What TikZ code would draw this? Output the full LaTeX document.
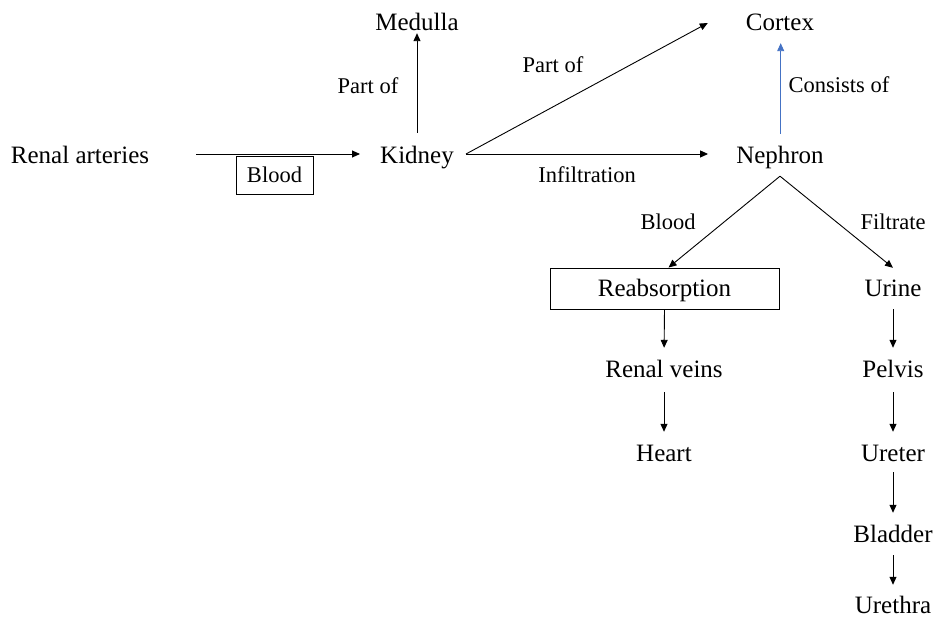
\documentclass[tikz,border=0pt]{standalone}
\usepackage{fontspec}
\setmainfont{Liberation Serif}
\usetikzlibrary{arrows.meta}
\definecolor{linkblue}{RGB}{68,114,196}
\begin{document}
\begin{tikzpicture}[x=1pt,y=1pt,
  term/.style={inner sep=0pt, text height=20pt, text depth=0pt, font=\fontsize{25}{30}\selectfont},
  lbl/.style={inner sep=0pt, anchor=base, font=\fontsize{22.5}{27}\selectfont},
  boxed/.style={draw, line width=0.9pt, inner sep=0pt},
  arr/.style={line width=0.9pt, -{Triangle[length=8pt,width=7pt]}}]
\path[use as bounding box] (0,0) rectangle (938,618);

% concepts
\node[term] (ra) at (80,464) {Renal arteries};
\node[term] (kid) at (417,464) {Kidney};
\node[term] (med) at (417,597) {Medulla};
\node[term] (cor) at (780,597) {Cortex};
\node[term] (nep) at (780,464) {Nephron};
\node[boxed, minimum width=229pt, minimum height=41pt, text height=17pt, text depth=0pt,
      font=\fontsize{25}{30}\selectfont] (reab) at (664.5,329.5) {Reabsorption};
\node[term] (urine) at (893,331) {Urine};
\node[term] (rv) at (664,250) {Renal veins};
\node[term] (heart) at (664,166) {Heart};
\node[term] (pelvis) at (893,250) {Pelvis};
\node[term] (ureter) at (893,166) {Ureter};
\node[term] (bladder) at (893,85) {Bladder};
\node[term] (urethra) at (893,14) {Urethra};

% link labels
\node[boxed, minimum width=77pt, minimum height=38pt, font=\fontsize{22.5}{27}\selectfont] (bloodbox) at (274.5,443) {Blood};
\node[lbl] (partL) at (368,524) {Part of};
\node[lbl] (partU) at (553,545) {Part of};
\node[lbl] (cons) at (839,525) {Consists of};
\node[lbl] (infil) at (587,435) {Infiltration};
\node[lbl] (bloodL) at (668,388) {Blood};
\node[lbl] (filt) at (893,388) {Filtrate};

% links
\draw[arr, shorten <=47pt, shorten >=20pt] (ra.east) -- (kid.west);
\draw[arr, shorten <=11pt, shorten >=2pt] (kid.north) -- (med.south);
\draw[arr] ([xshift=12pt]kid.east) -- ([shift={(-38pt,-2pt)}]cor.west);
\draw[arr] ([xshift=12pt]kid.east) -- ([xshift=-28pt]nep.west);
\draw[arr, linkblue, shorten <=10pt, shorten >=12pt] ([xshift=0.7pt]nep.north) -- ([xshift=0.7pt]cor.south);
\draw[arr] ([yshift=-12pt]nep.south) -- ([xshift=4pt]reab.north);
\draw[arr] ([yshift=-12pt]nep.south) -- ([yshift=9pt]urine.north);
\draw[arr, shorten >=10pt] (reab.south) -- (rv.north);
\draw[arr, shorten <=14pt, shorten >=10pt] (rv.south) -- (heart.north);
\draw[arr, shorten <=12pt, shorten >=10pt] (urine.south) -- (pelvis.north);
\draw[arr, shorten <=14pt, shorten >=10pt] (pelvis.south) -- (ureter.north);
\draw[arr, shorten <=10pt, shorten >=10pt] (ureter.south) -- (bladder.north);
\draw[arr, shorten <=12pt, shorten >=9pt] (bladder.south) -- (urethra.north);
\end{tikzpicture}
\end{document}
